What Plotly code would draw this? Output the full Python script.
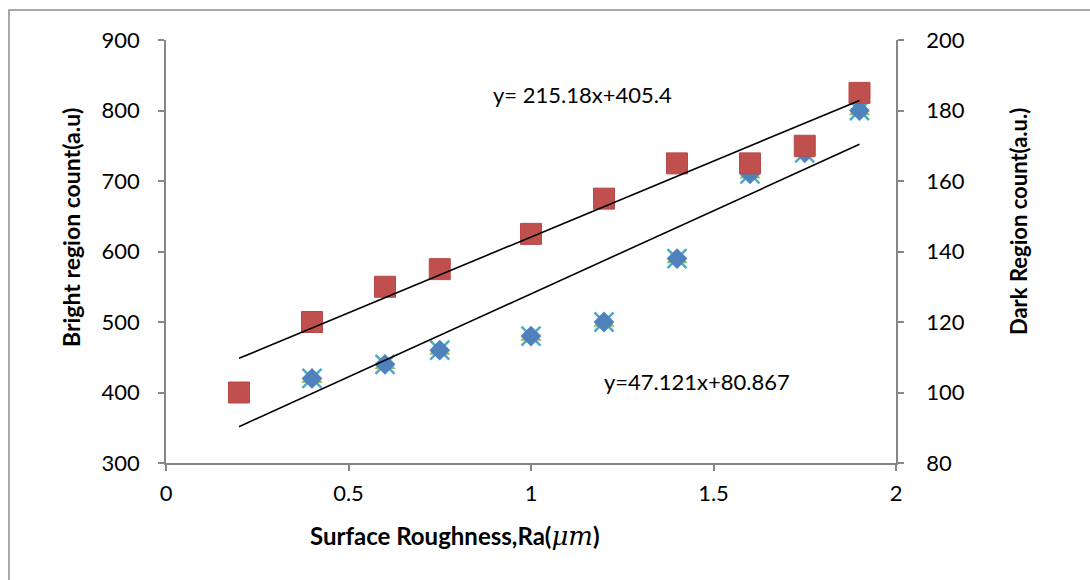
import plotly.graph_objects as go

# Data
ra = [0.2, 0.4, 0.6, 0.75, 1.0, 1.2, 1.4, 1.6, 1.75, 1.9]
bright = [400, 500, 550, 575, 625, 675, 725, 725, 750, 825]
dark = [100, 104, 108, 112, 116, 120, 138, 162, 168, 180]

bright_slope, bright_intercept = 215.18, 405.4
dark_slope, dark_intercept = 47.121, 80.867

bright_eq = "y= 215.18x+405.4"
dark_eq = "y=47.121x+80.867"

x_title = ("<b>Surface Roughness,Ra(</b><span style='font-family:DejaVu Serif;font-size:26px'>"
           "<i>μm</i></span><b>)</b>")
y_title = "<b>Bright region count(a.u)</b>"
y2_title = "<b>Dark Region count(a.u.)</b>"

FONT = "Lato, 'Noto Sans', sans-serif"
AX = "#868686"

x_fit = [min(ra), max(ra)]
bright_fit = [bright_slope * v + bright_intercept for v in x_fit]
dark_fit = [dark_slope * v + dark_intercept for v in x_fit]

fig = go.Figure()

# Dark region (right axis = base axis "y"): overlapping Excel-style markers
fig.add_trace(go.Scatter(x=ra, y=dark, yaxis="y", mode="markers",
                         marker=dict(symbol="x-thin-open", size=19, color="#4BACC6",
                                     line=dict(color="#4BACC6", width=2.5)),
                         showlegend=False))
fig.add_trace(go.Scatter(x=ra, y=dark, yaxis="y", mode="markers",
                         marker=dict(symbol="triangle-up", size=18.5, color="#9BBB59"),
                         showlegend=False))
fig.add_trace(go.Scatter(x=ra, y=dark, yaxis="y", mode="markers",
                         marker=dict(symbol="diamond", size=16, color="#4F81BD"),
                         showlegend=False))
fig.add_trace(go.Scatter(x=x_fit, y=dark_fit, yaxis="y", mode="lines",
                         line=dict(color="black", width=1.6), showlegend=False))

# Bright region (left axis = overlaying "y2", drawn on top)
fig.add_trace(go.Scatter(x=ra, y=bright, yaxis="y2", mode="markers",
                         marker=dict(symbol="square", size=21, color="#C0504D",
                                     line=dict(color="#B8484A", width=1)),
                         showlegend=False))
fig.add_trace(go.Scatter(x=x_fit, y=bright_fit, yaxis="y2", mode="lines",
                         line=dict(color="black", width=1.6), showlegend=False))

fig.add_annotation(x=1.142, y=823, xref="x", yref="y2", text=bright_eq,
                   showarrow=False, font=dict(size=22, color="black", family=FONT))
fig.add_annotation(x=1.455, y=416, xref="x", yref="y2", text=dark_eq,
                   showarrow=False, font=dict(size=22, color="black", family=FONT))

# axis titles (positioned like the original)
fig.add_annotation(x=(455 - 166) / 730, y=(463 - 536) / 423, xref="paper", yref="paper",
                   text=x_title, showarrow=False, font=dict(size=24, family=FONT),
                   xanchor="center", yanchor="middle")
fig.add_annotation(x=(71 - 166) / 730, y=(463 - 228) / 423, xref="paper", yref="paper",
                   text=y_title, showarrow=False, textangle=-90,
                   font=dict(size=23, family=FONT), xanchor="center", yanchor="middle")
fig.add_annotation(x=(1019 - 166) / 730, y=(463 - 221) / 423, xref="paper", yref="paper",
                   text=y2_title, showarrow=False, textangle=-90,
                   font=dict(size=22, family=FONT), xanchor="center", yanchor="middle")

# outer chart frame
fig.add_shape(type="rect", xref="paper", yref="paper",
              x0=(9 - 166) / 730, x1=1.5, y0=-0.5, y1=1 + 30 / 423,
              line=dict(color="#8C8C8C", width=1.5), fillcolor="rgba(0,0,0,0)")

common = dict(showgrid=False, zeroline=False, showline=True, linecolor=AX,
              linewidth=1.5, ticks="outside", ticklen=6, tickcolor=AX,
              tickwidth=1.5, automargin=False, tickfont=dict(size=22))

fig.update_layout(
    width=1090, height=580,
    margin=dict(l=166, r=194, t=40, b=117),
    paper_bgcolor="white", plot_bgcolor="white",
    font=dict(family=FONT, size=22, color="black"),
    xaxis=dict(range=[0, 2], dtick=0.5, tick0=0, ticklabelstandoff=4, **common),
    yaxis=dict(range=[80, 200], dtick=20, side="right", ticklabelstandoff=18, **common),
    yaxis2=dict(range=[300, 900], dtick=100, overlaying="y", side="left",
                ticklabelstandoff=14, **common),
)

fig.write_html("out.html", config={"displayModeBar": False},
               post_script="document.body.style.margin='0px';document.body.style.overflow='hidden';")
